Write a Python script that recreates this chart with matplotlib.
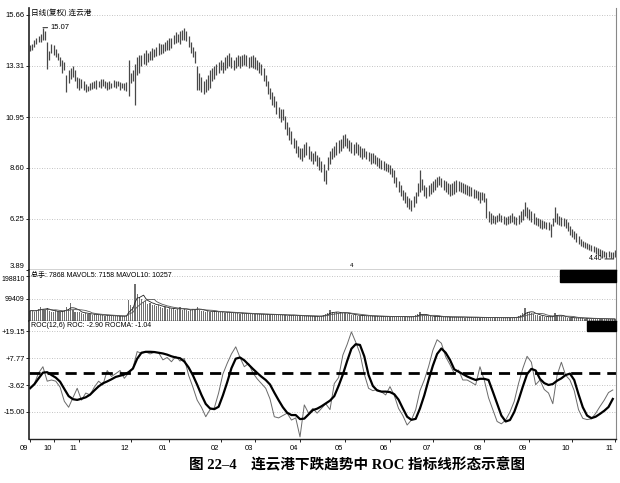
import numpy as np
import pandas as pd
import matplotlib
matplotlib.use("Agg")
import matplotlib.pyplot as plt
import matplotlib.transforms as mtransforms
from matplotlib.patches import Rectangle

plt.rcParams['font.family'] = ['Liberation Sans', 'Noto Sans CJK SC', 'DejaVu Sans']

# daily low / high of each candle, 274 trading days
lo = [14.0, 14.05, 14.2, 14.3, 14.4, 14.4, 14.5, 14.5, 13.15, 13.6,
      13.9, 13.8, 13.7, 13.6, 13.3, 13.0, 13.1, 12.1, 12.5, 12.7,
      12.8, 12.6, 12.3, 12.2, 12.3, 12.2, 12.1, 12.15, 12.2, 12.25,
      12.3, 12.25, 12.35, 12.3, 12.4, 12.3, 12.2, 12.25, 12.3, 12.35,
      12.3, 12.4, 12.2, 12.3, 12.2, 12.15, 11.9, 12.5, 12.6, 11.5,
      12.9, 13.0, 13.3, 13.4, 13.35, 13.5, 13.6, 13.6, 13.7, 13.75,
      13.8, 13.85, 13.9, 14.0, 14.05, 14.05, 14.15, 14.3, 14.35, 14.4,
      14.3, 14.5, 14.5, 14.45, 14.2, 13.9, 13.7, 13.45, 12.2, 12.2,
      12.1, 12.0, 12.1, 12.2, 12.3, 12.6, 12.7, 12.9, 13.0, 13.1,
      13.0, 13.1, 13.2, 13.3, 13.2, 13.1, 13.2, 13.3, 13.2, 13.3,
      13.35, 13.3, 13.2, 13.25, 13.2, 13.15, 13.1, 13.0, 12.9, 12.6,
      12.4, 12.0, 11.8, 11.5, 11.4, 11.1, 10.9, 10.7, 10.8, 10.4,
      10.1, 9.9, 9.7, 9.5, 9.3, 9.1, 9.0, 8.9, 9.1, 9.2,
      9.0, 8.9, 8.8, 8.9, 8.7, 8.5, 8.4, 8.0, 7.85, 8.5,
      8.8, 9.0, 9.1, 9.2, 9.3, 9.4, 9.5, 9.6, 9.5, 9.4,
      9.3, 9.2, 9.3, 9.2, 9.1, 9.0, 9.1, 9.0, 8.9, 8.8,
      8.85, 8.8, 8.7, 8.6, 8.55, 8.5, 8.45, 8.4, 8.3, 8.2,
      7.9, 7.7, 7.5, 7.3, 7.1, 7.0, 6.8, 6.7, 6.6, 6.8,
      7.0, 7.3, 7.5, 7.6, 7.3, 7.2, 7.3, 7.4, 7.5, 7.6,
      7.7, 7.8, 7.7, 7.6, 7.5, 7.4, 7.3, 7.35, 7.4, 7.5,
      7.55, 7.5, 7.45, 7.4, 7.35, 7.3, 7.3, 7.2, 7.2, 7.1,
      7.0, 7.1, 7.05, 6.3, 6.1, 6.0, 6.05, 6.0, 6.1, 6.15,
      6.1, 6.0, 5.95, 6.0, 6.05, 6.1, 6.0, 5.95, 6.0, 6.1,
      6.2, 6.4, 6.3, 6.2, 6.1, 6.0, 5.95, 5.9, 5.85, 5.8,
      5.85, 5.8, 5.75, 5.4, 5.9, 6.1, 6.0, 5.95, 5.9, 5.9,
      5.85, 5.7, 5.5, 5.4, 5.3, 5.2, 5.1, 5.0, 4.95, 4.9,
      4.85, 4.8, 4.75, 4.7, 4.65, 4.6, 4.55, 4.45, 4.5, 4.45,
      4.5, 4.45, 4.4, 4.5]
hi = [14.25, 14.3, 14.5, 14.6, 14.7, 14.8, 15.07, 14.9, 14.4, 14.0,
      14.3, 14.25, 14.1, 13.9, 13.7, 13.6, 13.5, 12.9, 13.1, 13.2,
      13.3, 13.1, 12.8, 12.75, 12.7, 12.6, 12.45, 12.4, 12.5, 12.55,
      12.6, 12.65, 12.6, 12.7, 12.7, 12.6, 12.55, 12.6, 12.5, 12.65,
      12.6, 12.6, 12.55, 12.5, 12.5, 12.55, 13.6, 13.0, 13.1, 13.4,
      13.7, 13.8, 13.8, 13.9, 14.05, 13.9, 14.0, 14.15, 14.1, 14.2,
      14.35, 14.3, 14.3, 14.4, 14.5, 14.6, 14.6, 14.75, 14.85, 14.8,
      14.9, 14.95, 15.05, 14.9, 14.7, 14.4, 14.2, 14.0, 13.3, 13.0,
      12.8, 12.6, 12.7, 12.9, 13.1, 13.2, 13.3, 13.4, 13.5, 13.6,
      13.5, 13.7, 13.8, 13.9, 13.7, 13.6, 13.7, 13.8, 13.75, 13.8,
      13.85, 13.8, 13.7, 13.75, 13.8, 13.7, 13.6, 13.5, 13.4, 13.2,
      12.9, 12.6, 12.3, 12.1, 11.9, 11.7, 11.4, 11.3, 11.3, 11.0,
      10.7, 10.5, 10.3, 10.0, 9.9, 9.6, 9.5, 9.5, 9.7, 9.8,
      9.6, 9.4, 9.3, 9.4, 9.2, 9.1, 8.9, 8.8, 8.5, 9.1,
      9.4, 9.5, 9.6, 9.8, 9.9, 9.95, 10.1, 10.15, 10.0, 9.9,
      9.8, 9.7, 9.8, 9.7, 9.6, 9.5, 9.5, 9.4, 9.35, 9.3,
      9.3, 9.2, 9.1, 9.05, 8.95, 8.9, 8.85, 8.8, 8.75, 8.6,
      8.5, 8.2, 8.0, 7.8, 7.6, 7.5, 7.3, 7.2, 7.1, 7.3,
      7.5, 7.9, 8.5, 8.1, 7.8, 7.7, 7.8, 7.9, 8.0, 8.1,
      8.2, 8.25, 8.15, 8.05, 8.0, 7.9, 7.85, 7.9, 8.0, 8.05,
      8.0, 7.95, 7.9, 7.85, 7.8, 7.75, 7.7, 7.65, 7.6, 7.55,
      7.5, 7.5, 7.45, 7.2, 6.6, 6.5, 6.45, 6.4, 6.45, 6.5,
      6.45, 6.4, 6.35, 6.4, 6.45, 6.5, 6.4, 6.35, 6.45, 6.6,
      6.7, 7.05, 6.8, 6.7, 6.6, 6.5, 6.35, 6.3, 6.25, 6.2,
      6.15, 6.1, 6.1, 6.0, 6.3, 6.8, 6.5, 6.4, 6.35, 6.3,
      6.25, 6.1, 5.9, 5.8, 5.7, 5.6, 5.45, 5.3, 5.25, 5.2,
      5.15, 5.1, 5.05, 5.0, 4.95, 4.9, 4.85, 4.8, 4.75, 4.7,
      4.75, 4.7, 4.7, 4.8]

# daily volume, thousands of shares
vol_k = [45, 48, 42, 50, 55, 60, 52, 48, 58, 45,
         42, 40, 44, 38, 42, 46, 50, 62, 55, 78,
         48, 42, 40, 38, 35, 33, 34, 30, 31, 28,
         30, 27, 26, 28, 25, 24, 26, 23, 22, 24,
         21, 22, 20, 23, 21, 25, 95, 70, 60, 164,
         120, 105, 98, 85, 90, 75, 80, 72, 70, 66,
         72, 62, 58, 60, 55, 58, 52, 56, 50, 54,
         62, 48, 52, 50, 46, 48, 55, 52, 60, 48,
         45, 44, 42, 46, 40, 42, 44, 40, 38, 42,
         39, 36, 40, 38, 35, 37, 34, 36, 33, 35,
         32, 34, 31, 33, 30, 32, 30, 31, 29, 30,
         28, 30, 28, 29, 27, 30, 26, 28, 25, 27,
         24, 26, 25, 28, 24, 23, 22, 24, 21, 23,
         20, 22, 21, 20, 22, 19, 24, 28, 32, 36,
         50, 38, 34, 40, 36, 38, 34, 36, 32, 30,
         28, 26, 25, 24, 23, 25, 22, 24, 21, 23,
         20, 22, 21, 19, 22, 20, 18, 21, 19, 20,
         18, 22, 20, 19, 18, 20, 17, 19, 18, 22,
         26, 30, 39, 28, 24, 22, 20, 22, 19, 21,
         18, 20, 19, 17, 19, 18, 16, 18, 17, 19,
         16, 18, 17, 15, 17, 16, 18, 15, 17, 16,
         14, 16, 15, 17, 14, 16, 15, 14, 16, 15,
         13, 15, 14, 16, 15, 14, 16, 18, 22, 28,
         34, 56, 42, 38, 34, 30, 28, 25, 22, 20,
         19, 18, 17, 20, 24, 35, 26, 22, 20, 18,
         16, 15, 14, 15, 13, 14, 12, 13, 12, 11,
         12, 10, 11, 10, 12, 11, 9, 10, 9, 10,
         8, 9, 8, 7.9]

# ROC(12) and its 6-day average, read every second trading day
roc = [-4.9, -3.0, 1.5, 4.1, -2.0, -1.5, -2.0, -4.5, -10.5, -13.0,
       -9.0, -5.0, -10.0, -7.0, -7.8, -4.5, -2.0, -3.6, 2.5, 0.0,
       1.2, 2.5, -0.8, 1.5, 3.5, 10.5, 9.7, 10.4, 9.5, 10.2,
       10.0, 7.0, 8.0, 6.2, 8.5, 6.5, 7.6, 0.5, -4.5, -10.0,
       -13.0, -17.0, -14.0, -13.3, -7.0, 1.0, 5.5, 9.5, 12.5, 8.0,
       4.1, 5.5, 1.5, -1.0, -3.0, -5.0, -9.5, -17.0, -17.5, -16.5,
       -15.5, -18.4, -17.5, -25.5, -12.0, -15.5, -13.5, -15.5, -13.5, -11.5,
       -14.0, -3.0, -0.5, 9.0, 13.5, 18.8, 14.5, 9.7, 1.0, -5.0,
       -6.0, -5.5, -6.5, -7.8, -4.3, -8.0, -13.5, -16.5, -20.5, -18.4,
       -14.0, -6.0, -1.5, 4.1, 11.0, 15.5, 14.0, 8.3, 5.0, 1.3,
       2.7, -1.5, -1.5, -2.5, -3.6, 4.1, -1.5, -9.0, -14.0, -19.0,
       -20.0, -18.4, -15.0, -10.5, -3.0, 3.4, 8.5, 6.0, -3.5, -1.5,
       -5.5, -7.0, -11.5, 0.5, 6.0, 0.5, -1.5, -6.0, -14.0, -17.7,
       -18.2, -17.9, -15.6, -12.7, -10.0, -6.8, -5.7]
rocma = [-5.0, -3.3, -0.8, 1.6, 1.8, 0.6, -0.5, -2.2, -5.3, -8.3,
         -9.6, -9.9, -9.4, -8.8, -7.7, -5.9, -4.2, -2.9, -2.1, -1.2,
         -0.2, 0.3, 0.8, 1.8, 3.3, 7.5, 10.0, 10.4, 10.4, 10.3,
         10.0, 9.7, 9.2, 8.5, 8.0, 7.7, 6.3, 3.8, 0.5, -3.5,
         -7.8, -11.6, -13.5, -13.8, -12.8, -8.0, -2.5, 3.5, 7.5, 8.0,
         6.8, 5.0, 3.2, 1.5, -0.1, -1.5, -3.4, -6.8, -10.0, -13.0,
         -15.3, -16.3, -16.3, -18.0, -17.8, -16.0, -14.2, -13.6, -12.6, -11.4,
         -10.2, -8.3, -4.0, 0.8, 6.5, 11.7, 13.6, 13.3, 8.5, 0.6,
         -4.0, -5.9, -6.4, -6.4, -6.6, -7.5, -9.8, -13.5, -17.0, -18.3,
         -17.9, -13.5, -8.0, -1.5, 4.5, 9.5, 11.8, 10.0, 7.0, 3.0,
         2.0, 1.0, 0.0, -0.8, -1.5, -1.0, -1.0, -1.5, -6.4, -11.5,
         -16.5, -19.0, -18.4, -15.0, -10.0, -4.3, 1.0, 3.2, 2.5, -1.0,
         -2.8, -3.6, -3.2, -1.8, -0.8, 0.6, 1.2, -1.5, -7.5, -13.0,
         -16.5, -17.6, -17.0, -15.8, -14.5, -12.9, -9.5]
dash_level = 1.6  # hand-drawn dashed line in the ROC panel

month_pos = [0, 11, 23, 47, 65, 89, 105, 126, 147, 168, 188, 212, 233, 253, 273]
month_lab = ['09', '10', '11', '12', '01', '02', '03', '04', '05', '06',
             '07', '08', '09', '10', '11']

price_ticks = [15.66, 13.31, 10.95, 8.60, 6.25, 3.89]
vol_ticks = [198810, 99409]
roc_ticks = [19.15, 7.77, -3.62, -15.00]

days = np.arange(len(lo))
vol = np.array(vol_k) * 1000
mavol5 = pd.Series(vol).rolling(5, min_periods=1).mean()
mavol10 = pd.Series(vol).rolling(10, min_periods=1).mean()
roc_days = np.arange(len(roc)) * 2

fig = plt.figure(figsize=(6.2, 4.83), dpi=100)
L, W = 29 / 620, 587 / 620
ax1 = fig.add_axes([L, 1 - 270 / 483, W, 262 / 483])
ax2 = fig.add_axes([L, 1 - 321 / 483, W, 51 / 483])
ax3 = fig.add_axes([L, 1 - 439 / 483, W, 118 / 483])

tick_font = dict(fontsize=5.5, family=['Liberation Sans', 'DejaVu Sans'])

for ax in (ax1, ax2, ax3):
    ax.set_xlim(-0.5, len(lo) - 0.5)
    ax.spines['top'].set_visible(False)
    ax.spines['left'].set_color('#222222')
    ax.spines['left'].set_linewidth(1.2)
    ax.spines['right'].set_color('#888888')
    ax.spines['bottom'].set_color('#222222')
    ax.spines['bottom'].set_linewidth(1.0)
    ax.tick_params(axis='y', length=2, width=0.6, pad=1, labelsize=5.5)
    ax.grid(axis='y', ls=(0, (1, 2)), color='#b0b0b0', lw=0.6)
    ax.set_axisbelow(True)
for ax in (ax1, ax2):
    ax.set_xticks([])

# price panel
ax1.vlines(days, lo, hi, color='#484848', lw=0.9)
ax1.set_ylim(3.89, 15.98)
ax1.set_yticks(price_ticks)
ax1.set_yticklabels(['%.2f' % v for v in price_ticks], **tick_font)
ax1.get_yticklabels()[-1].set_va('bottom')
ax1.text(0.004, 0.997, '日线(复权) 连云港', transform=ax1.transAxes,
         va='top', ha='left', fontsize=5.5, family=['Noto Sans CJK SC'])
pk = int(np.argmax(hi))
ax1.annotate('%.2f' % hi[pk], xy=(pk, hi[pk]), xytext=(pk + 3.5, hi[pk]),
             va='center', ha='left', fontsize=5.5,
             arrowprops=dict(arrowstyle='-', lw=0.6, color='black',
                             shrinkA=0, shrinkB=0))
lw_i = int(np.argmin(lo))
ax1.annotate('%.2f' % lo[lw_i], xy=(lw_i, lo[lw_i]), xytext=(lw_i - 5, lo[lw_i]),
             va='center', ha='right', fontsize=5,
             arrowprops=dict(arrowstyle='-', lw=0.6, color='black',
                             shrinkA=0, shrinkB=0))
ax1.text(150, 4.1, '4', fontsize=4.5, ha='center', va='center')

# volume panel
ax2.bar(days, vol, width=0.55, color='#707070', lw=0)
ax2.plot(days, mavol5, color='#222222', lw=0.6)
ax2.plot(days, mavol10, color='#555555', lw=0.6)
ax2.set_ylim(0, 226000)
ax2.set_yticks(vol_ticks)
ax2.set_yticklabels([str(v) for v in vol_ticks], fontsize=5,
                    family=['Liberation Sans', 'DejaVu Sans'])
ax2.get_yticklabels()[0].set_va('top')
ax2.text(0.004, 0.96, '总手: 7868 MAVOL5: 7158 MAVOL10: 10257',
         transform=ax2.transAxes, va='top', ha='left', fontsize=5,
         family=['Liberation Sans', 'Noto Sans CJK SC'])
ax2.add_patch(Rectangle((0.905, 0.76), 0.095, 0.24, transform=ax2.transAxes,
                        color='black', clip_on=False, zorder=5))

# ROC panel
ax3.plot(roc_days, roc, color='#6a6a6a', lw=0.7)
ax3.plot(roc_days, rocma, color='black', lw=1.6)
ax3.axhline(dash_level, color='black', lw=2.0, dashes=(4, 2.5))
ax3.set_ylim(-26.4, 23.4)
ax3.set_yticks(roc_ticks)
ax3.set_yticklabels(['%+.2f' % v for v in roc_ticks], **tick_font)
ax3.text(0.004, 0.995, 'ROC(12,6) ROC: -2.90 ROCMA: -1.04',
         transform=ax3.transAxes, va='top', ha='left', fontsize=5,
         family=['Liberation Sans'])
ax3.add_patch(Rectangle((0.951, 0.915), 0.049, 0.085, transform=ax3.transAxes,
                        color='black', clip_on=False, zorder=5))

ax3.set_xticks(month_pos)
ax3.set_xticklabels(month_lab, **tick_font)
ax3.tick_params(axis='x', length=2.5, width=0.6, pad=1.5)
shift = mtransforms.ScaledTranslation(-0.06, 0, fig.dpi_scale_trans)
for t in ax3.get_xticklabels():
    t.set_transform(t.get_transform() + shift)

fig.text(0.576, 0.037, '图 22–4    连云港下跌趋势中 ROC 指标线形态示意图',
         ha='center', va='center', fontsize=10.5, fontweight='bold',
         family=['Liberation Serif', 'Noto Sans CJK SC'])

fig.savefig('out.png', dpi=100)
